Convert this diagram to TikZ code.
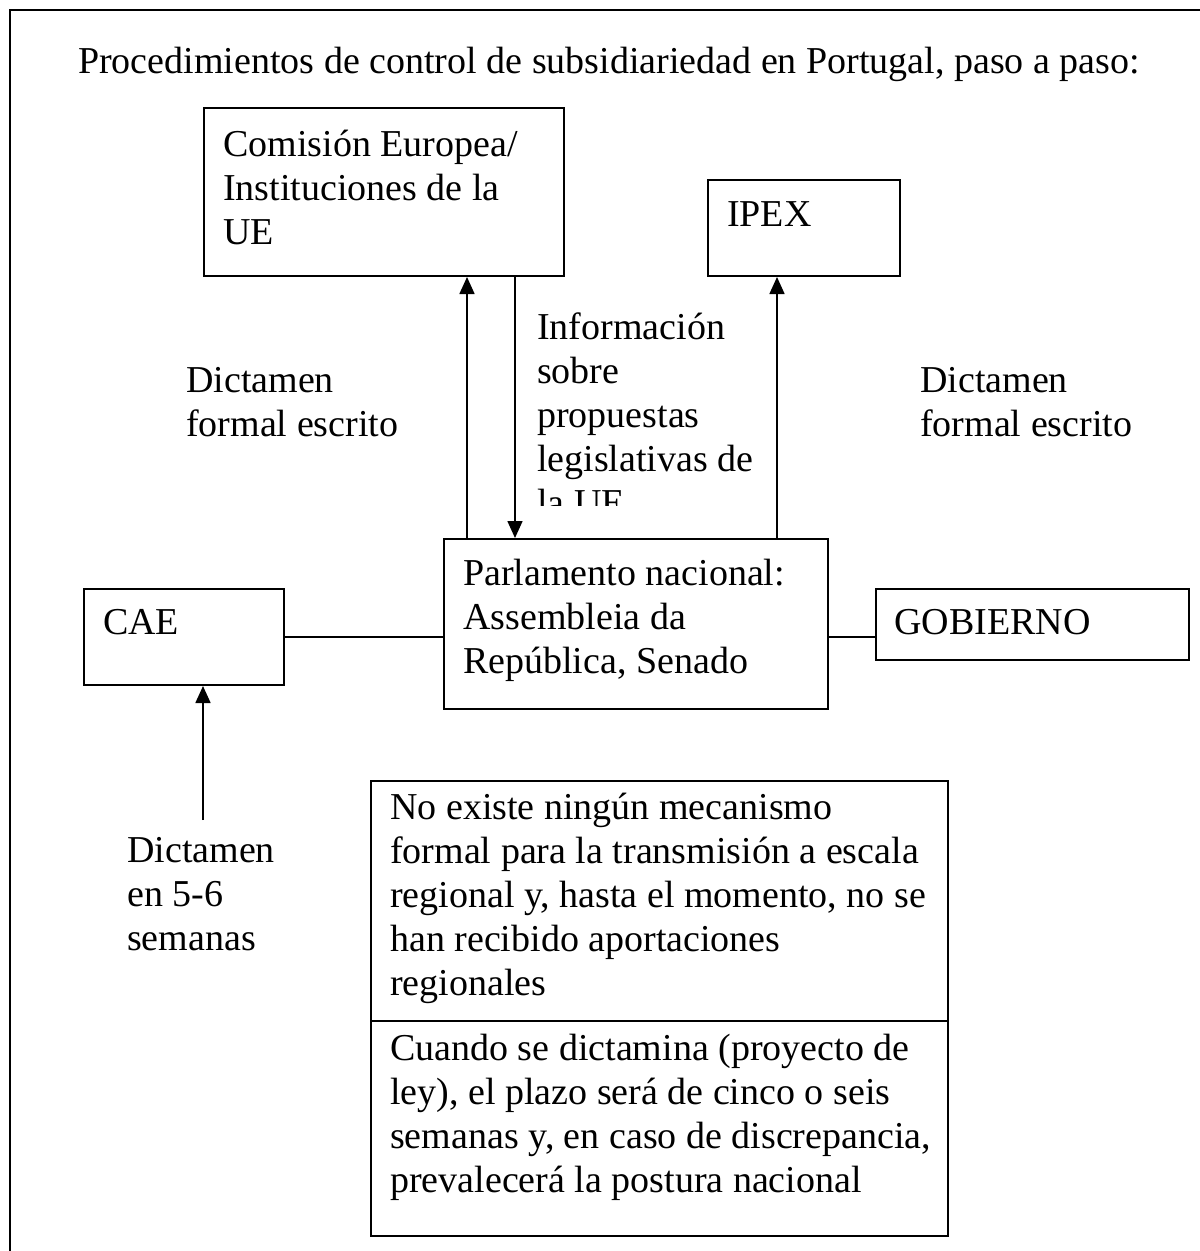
\documentclass[tikz,border=0pt]{standalone}
\usepackage{fontspec}
\setmainfont{Liberation Serif}
\usetikzlibrary{arrows.meta}
\tikzstyle{box} = [
  draw,
  rectangle,
  line width=2pt,
  anchor=north west,
  inner sep=0pt,
]
\tikzstyle{txt} = [
  anchor=north west,
  yshift=30.8pt,
  inner sep=0pt,
  align=left,
  font=\fontsize{38}{44}\selectfont,
  execute at begin node=\strut,
]
\tikzstyle{arr} = [
  line width=1.6pt,
  -{Triangle[length=17pt,width=15pt]},
]
\tikzstyle{link} = [
  line width=1.6pt,
]

\begin{document}
\begin{tikzpicture}[
    x=1pt,
    y=-1pt,
  ]
  \useasboundingbox (0,0) rectangle (1200,1251);
  % outer frame, only top and left edges show
  \draw[line width=2.5pt] (1200,10) -- (10,10) -- (10,1251);
  \node[txt] (title) at (78,73)
    {Procedimientos de control de subsidiariedad en Portugal, paso a paso:};

  % boxes
  \node[box, minimum width=360, minimum height=168] (comision) at (203,107) {};
  \node[box, minimum width=192, minimum height=96] (ipex) at (707,179) {};
  \node[box, minimum width=384, minimum height=170] (parlamento) at (443,538) {};
  \node[box, minimum width=200, minimum height=96] (cae) at (83,588) {};
  \node[box, minimum width=313, minimum height=71] (gobierno) at (875,588) {};
  \node[box, minimum width=577, minimum height=240] (regional) at (370,780) {};
  \node[box, minimum width=577, minimum height=215] (plazo) at (370,1020) {};

  % box texts
  \node[txt] (comisiontxt) at (223,161)
    {Comisión Europea/\\Instituciones de la\\UE};
  \node[txt] (ipextxt) at (727,226) {IPEX};
  \node[txt] (parlamentotxt) at (463,590)
    {Parlamento nacional:\\Assembleia da\\República, Senado};
  \node[txt] (caetxt) at (103,634) {CAE};
  \node[txt] (gobiernotxt) at (894,634) {GOBIERNO};
  \node[txt] (regionaltxt) at (390,824)
    {No existe ningún mecanismo\\formal para la transmisión a escala\\regional y, hasta el momento, no se\\han recibido aportaciones\\regionales};
  \node[txt] (plazotxt) at (390,1065)
    {Cuando se dictamina (proyecto de\\ley), el plazo será de cinco o seis\\semanas y, en caso de discrepancia,\\prevalecerá la postura nacional};

  % free labels
  \node[txt] (dictizq) at (186,398) {Dictamen\\formal escrito};
  \node[txt] (dictder) at (920,398) {Dictamen\\formal escrito};
  \node[txt] (dictcae) at (127,868) {Dictamen\\en 5-6\\semanas};
  \begin{scope}
    \clip (530,280) rectangle (770,505);
    \node[txt] (info) at (537,343)
      {Información\\sobre\\propuestas\\legislativas de\\la UE};
  \end{scope}

  % connectors
  \draw[arr] ([xshift=24]parlamento.north west)
    -- ([xshift=24]parlamento.north west |- comision.south);
  \draw[arr] ([xshift=72]parlamento.north west |- comision.south)
    -- ([xshift=72]parlamento.north west);
  \draw[arr] ([xshift=70]ipex.south west |- parlamento.north)
    -- ([xshift=70]ipex.south west);
  \draw[link] (cae.east) -- (cae.east -| parlamento.west);
  \draw[link] (parlamento.east |- cae.east) -- (gobierno.west |- cae.east);
  \coordinate (caein) at (203,820);
  \draw[arr] (caein) -- (caein |- cae.south);
\end{tikzpicture}
\end{document}
